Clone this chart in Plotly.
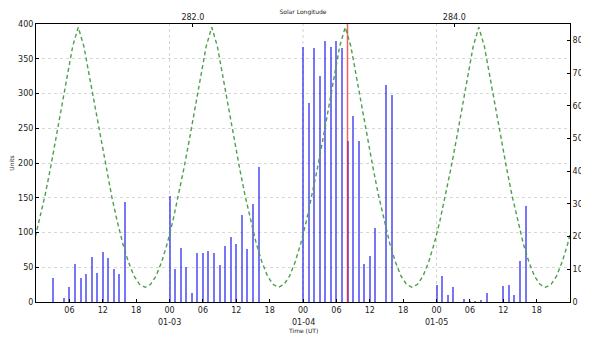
import pandas as pd
import plotly.graph_objects as go

# ---------------- data ----------------
bar_times = [
    "2016-01-02 03:00", "2016-01-02 05:00", "2016-01-02 06:00", "2016-01-02 07:00",
    "2016-01-02 08:00", "2016-01-02 09:00", "2016-01-02 10:00", "2016-01-02 11:00",
    "2016-01-02 12:00", "2016-01-02 13:00", "2016-01-02 14:00", "2016-01-02 15:00",
    "2016-01-02 16:00",
    "2016-01-03 00:00", "2016-01-03 01:00", "2016-01-03 02:00", "2016-01-03 03:00",
    "2016-01-03 04:00", "2016-01-03 05:00", "2016-01-03 06:00", "2016-01-03 07:00",
    "2016-01-03 08:00", "2016-01-03 09:00", "2016-01-03 10:00", "2016-01-03 11:00",
    "2016-01-03 12:00", "2016-01-03 13:00", "2016-01-03 14:00", "2016-01-03 15:00",
    "2016-01-03 16:00",
    "2016-01-04 00:00", "2016-01-04 01:00", "2016-01-04 02:00", "2016-01-04 03:00",
    "2016-01-04 04:00", "2016-01-04 05:00", "2016-01-04 06:00", "2016-01-04 07:00",
    "2016-01-04 08:00", "2016-01-04 09:00", "2016-01-04 10:00", "2016-01-04 11:00",
    "2016-01-04 12:00", "2016-01-04 13:00", "2016-01-04 15:00", "2016-01-04 16:00",
    "2016-01-05 00:00", "2016-01-05 01:00", "2016-01-05 02:00", "2016-01-05 03:00",
    "2016-01-05 05:00", "2016-01-05 06:00", "2016-01-05 07:00", "2016-01-05 08:00",
    "2016-01-05 09:00", "2016-01-05 12:00", "2016-01-05 13:00", "2016-01-05 14:00",
    "2016-01-05 15:00", "2016-01-05 16:00",
]
bar_counts = [
    34, 6, 22, 55, 34, 40, 65, 42, 72, 63, 48, 40, 144,
    152, 48, 78, 51, 13, 70, 71, 74, 70, 53, 80, 93, 83, 125, 76, 141, 194,
    367, 287, 365, 325, 375, 367, 376, 365, 232, 268, 232, 54, 66, 107, 312, 298,
    25, 37, 10, 22, 4, 2, 2, 3, 13, 23, 24, 10, 59, 138,
]

radiant_start = "2016-01-01 23:36"
radiant_height = [
    17.9, 24.7, 32.4, 40.9, 49.9, 59.4, 68.9, 78.2, 84.0, 78.2, 68.9, 59.4,
    49.9, 40.9, 32.4, 24.7, 17.9, 12.3, 8.0, 5.4, 4.5, 5.4, 8.0, 12.3,
    17.9, 24.7, 32.4, 40.9, 49.9, 59.4, 68.9, 78.2, 84.0, 78.2, 68.9, 59.4,
    49.9, 40.9, 32.4, 24.7, 17.9, 12.3, 8.0, 5.4, 4.5, 5.4, 8.0, 12.3,
    17.9, 24.7, 32.4, 40.9, 49.9, 59.4, 68.9, 78.2, 84.0, 78.2, 68.9, 59.4,
    49.9, 40.9, 32.4, 24.7, 17.9, 12.3, 8.0, 5.4, 4.5, 5.4, 8.0, 12.3,
    17.9, 24.7, 32.4, 40.9, 49.9, 59.4, 68.9, 78.2, 84.0, 78.2, 68.9, 59.4,
    49.9, 40.9, 32.4, 24.7, 17.9, 12.3, 8.0, 5.4, 4.5, 5.4, 8.0, 12.3,
    17.9, 24.7,
]

peak_time = "2016-01-04 08:00"
time_range = ["2016-01-02 00:00", "2016-01-06 00:00"]
solar_longitude_range = [280.80, 284.885]
solar_longitude_ticks = [282.0, 284.0]
day_labels = ["01-03", "01-04", "01-05"]
day_starts = ["2016-01-03", "2016-01-04", "2016-01-05"]
hour_tick_labels = ["06", "12", "18", "00", "06", "12", "18", "00",
                    "06", "12", "18", "00", "06", "12", "18"]
left_ticks = [0, 50, 100, 150, 200, 250, 300, 350, 400]
right_ticks = [0, 10, 20, 30, 40, 50, 60, 70, 80]

# ---------------- figure ----------------
radiant_times = pd.date_range(radiant_start, periods=len(radiant_height), freq="h")
hour_tick_vals = pd.date_range("2016-01-02 06:00", periods=len(hour_tick_labels), freq="6h")

FONT = "DejaVu Sans"
TXT = "#222222"

fig = go.Figure()

fig.add_trace(go.Bar(
    x=pd.to_datetime(bar_times), y=bar_counts,
    width=1.3e6,
    marker=dict(color="rgba(20,20,240,0.58)", line=dict(width=0)),
    xaxis="x", yaxis="y", showlegend=False,
))

fig.add_trace(go.Scatter(
    x=[pd.Timestamp(peak_time)] * 2, y=[0, 400],
    mode="lines", line=dict(color="rgba(235,30,30,0.7)", width=1.5),
    xaxis="x", yaxis="y", showlegend=False,
))

fig.add_trace(go.Scatter(
    x=radiant_times, y=radiant_height,
    mode="lines", line=dict(color="#4d9f4d", width=1.4, dash="4px,3px"),
    xaxis="x", yaxis="y2", showlegend=False,
))

# invisible trace to activate the solar-longitude axis
fig.add_trace(go.Scatter(
    x=solar_longitude_range, y=[0, 0], mode="lines",
    line=dict(width=0), opacity=0, hoverinfo="skip",
    xaxis="x2", yaxis="y", showlegend=False,
))

shapes = []
for d in day_starts:
    shapes.append(dict(type="line", xref="x", yref="paper", x0=d, x1=d, y0=0, y1=1,
                       line=dict(color="#d4d4d4", width=1, dash="dot"), layer="below"))

annotations = []
for d, lab in zip(day_starts, day_labels):
    annotations.append(dict(x=d, y=0, xref="x", yref="paper", yanchor="middle",
                            yshift=-20, text=lab, showarrow=False,
                            font=dict(family=FONT, size=8, color=TXT)))
annotations.append(dict(x=0.5, y=0, xref="paper", yref="paper", yanchor="middle",
                        yshift=-28, text="Time (UT)", showarrow=False,
                        font=dict(family=FONT, size=6, color=TXT)))
annotations.append(dict(x=1, y=0.5, xref="paper", yref="paper", xanchor="center",
                        xshift=15, text="Radiant height", textangle=-90, showarrow=False,
                        font=dict(family=FONT, size=6, color=TXT)))

# the page body adds an 8px offset, so the figure is sized to fit the window
fig.update_layout(
    width=581, height=331,
    margin=dict(l=28, r=19, t=16, b=37),
    paper_bgcolor="white", plot_bgcolor="white",
    bargap=0,
    shapes=shapes, annotations=annotations,
    font=dict(family=FONT, size=8, color=TXT),
    xaxis=dict(
        type="date", range=time_range, automargin=False,
        tickmode="array", tickvals=hour_tick_vals, ticktext=hour_tick_labels,
        ticks="inside", ticklen=3, tickcolor="black",
        showline=True, linecolor="black", linewidth=1,
        showgrid=False, zeroline=False,
        tickfont=dict(size=8, color=TXT),
    ),
    xaxis2=dict(
        overlaying="x", side="top", range=solar_longitude_range, automargin=False,
        tickmode="array", tickvals=solar_longitude_ticks,
        ticktext=[f"{v:.1f}" for v in solar_longitude_ticks],
        ticks="inside", ticklen=3, tickcolor="black",
        showline=True, linecolor="black", linewidth=1,
        showgrid=False, zeroline=False,
        tickfont=dict(size=8, color=TXT),
        title=dict(text="Solar Longitude", font=dict(size=6, color=TXT), standoff=1),
    ),
    yaxis=dict(
        range=[0, 400], tickmode="array", tickvals=left_ticks, automargin=False,
        ticks="inside", ticklen=3, tickcolor="black",
        showline=True, linecolor="black", linewidth=1,
        showgrid=True, gridcolor="#d8d8d8", griddash="dot", gridwidth=1,
        zeroline=False,
        tickfont=dict(size=8, color=TXT),
        title=dict(text="Units", font=dict(size=6, color=TXT), standoff=4),
    ),
    yaxis2=dict(
        overlaying="y", side="right", range=[0, 85], automargin=False,
        tickmode="array", tickvals=right_ticks,
        ticks="inside", ticklen=3, tickcolor="black",
        showline=True, linecolor="black", linewidth=1,
        showgrid=False, zeroline=False,
        tickfont=dict(size=8, color=TXT),
    ),
)

fig.write_html("out.html")
